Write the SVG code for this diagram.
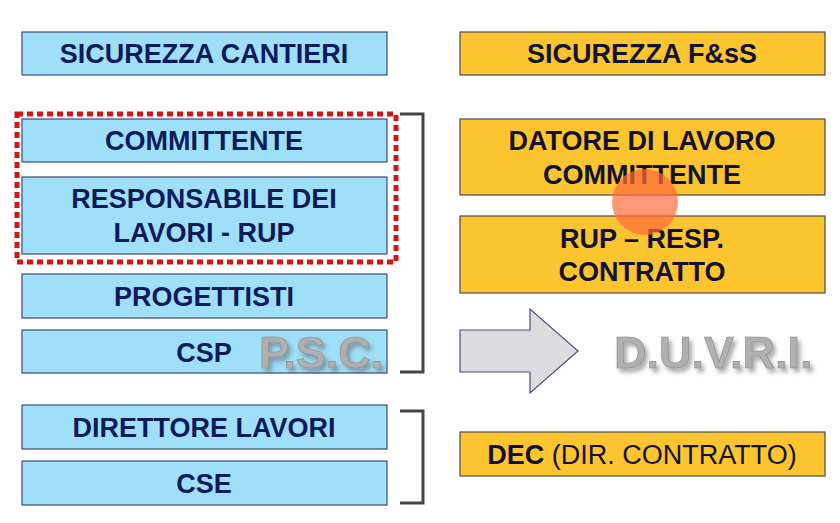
<svg xmlns="http://www.w3.org/2000/svg" width="840" height="523" viewBox="0 0 840 523">
<defs>
<filter id="ds" x="-10%" y="-20%" width="130%" height="150%"><feDropShadow dx="3" dy="4" stdDeviation="2" flood-color="#555" flood-opacity="0.5"/></filter>
<style>
.b{fill:#9fdff8;stroke:#3a4a7a;stroke-width:1.2}
.y{fill:#fcc52f;stroke:#4a4a4a;stroke-width:1.2}
.t{font-family:"Liberation Sans",Arial,sans-serif;font-weight:bold;font-size:27px;fill:#0d1a5c;text-anchor:middle}
.ty{font-family:"Liberation Sans",Arial,sans-serif;font-weight:bold;font-size:27px;fill:#121230;text-anchor:middle}
.big{font-family:"Liberation Sans",Arial,sans-serif;font-weight:bold;font-size:45px;fill:#b0b0b0;stroke:#8a8a8a;stroke-width:0.6;filter:url(#ds)}
.br{fill:none;stroke:#444;stroke-width:3}
</style>
</defs>
<rect width="840" height="523" fill="#fff"/>
<g id="sic-cantieri"><rect class="b" x="22" y="32" width="365" height="43"/><text class="t" x="204" y="63">SICUREZZA CANTIERI</text></g>
<g id="committente"><rect class="b" x="22" y="119" width="365" height="43"/><text class="t" x="204" y="150">COMMITTENTE</text></g>
<g id="resp-lavori"><rect class="b" x="22" y="177" width="365" height="77"/><text class="t" x="204" y="208">RESPONSABILE DEI</text><text class="t" x="204" y="242">LAVORI - RUP</text></g>
<g id="progettisti"><rect class="b" x="22" y="274" width="365" height="44"/><text class="t" x="204" y="306">PROGETTISTI</text></g>
<g id="csp"><rect class="b" x="22" y="330" width="365" height="43"/><text class="t" x="204" y="362">CSP</text>
<text class="big" x="259" y="368">P.S.C.</text></g>
<g id="direttore"><rect class="b" x="22" y="405" width="365" height="44"/><text class="t" x="204" y="437">DIRETTORE LAVORI</text></g>
<g id="cse"><rect class="b" x="22" y="461" width="365" height="44"/><text class="t" x="204" y="493">CSE</text></g>
<g id="highlight"><rect x="17" y="114" width="379" height="148" fill="none" stroke="#d21414" stroke-width="5" stroke-dasharray="6,4"/></g>
<g id="sic-fss"><rect class="y" x="460" y="32" width="365" height="43"/><text class="ty" x="642" y="63">SICUREZZA F&amp;sS</text></g>
<g id="datore"><rect class="y" x="460" y="119" width="365" height="76"/><text class="ty" x="642" y="150">DATORE DI LAVORO</text><text class="ty" x="642" y="184">COMMITTENTE</text></g>
<g id="rup"><rect class="y" x="460" y="216" width="365" height="77"/><text class="ty" x="642" y="248">RUP – RESP.</text><text class="ty" x="642" y="281">CONTRATTO</text></g>
<g id="dec"><rect class="y" x="460" y="432" width="365" height="44"/><text x="642" y="464" font-family="Liberation Sans,Arial,sans-serif" font-size="27" fill="#121230" text-anchor="middle"><tspan font-weight="bold">DEC</tspan> (DIR. CONTRATTO)</text></g>
<g id="duvri"><text class="big" x="614" y="368" font-size="46">D.U.V.R.I.</text></g>
<circle cx="645" cy="202" r="33" fill="#ff6a3a" opacity="0.7"/>
<g id="connectors">
<path class="br" d="M400,114 H423 V372 H400"/>
<path class="br" d="M400,411 H423 V503 H400"/>
<path d="M460,330 H530 V309 L578,351 L530,393 V372 H460 Z" fill="#dcdcde" stroke="#4a5080" stroke-width="1.2"/>
</g>
</svg>
